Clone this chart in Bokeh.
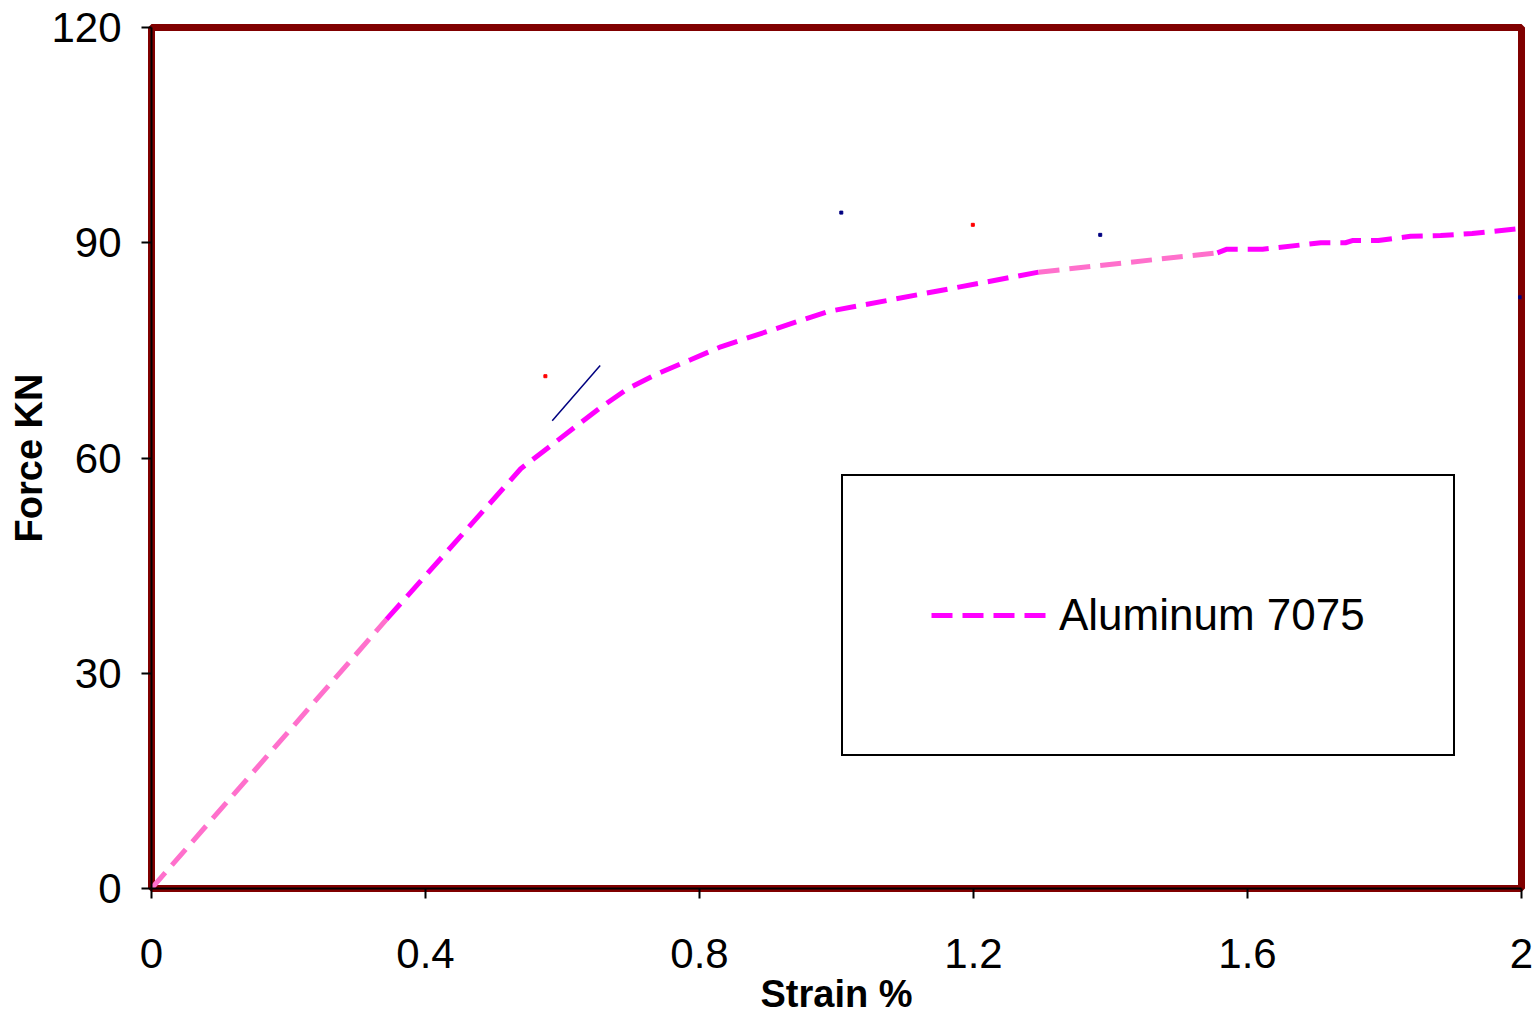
from bokeh.plotting import figure
from bokeh.models import FixedTicker, Legend, LegendItem, Range1d, ColumnDataSource
from bokeh.embed import file_html
from bokeh.resources import INLINE

# ---- data ----
strain = [0, 0.343, 0.539, 0.655, 0.696, 0.740, 0.787, 0.831, 0.987, 1.295,
          1.556, 1.570, 1.622, 1.707, 1.743, 1.753, 1.791, 1.838, 1.882, 1.928, 2.0]
force = [0, 37.5, 58.5, 67.0, 69.7, 71.8, 73.7, 75.5, 80.4, 85.9,
         88.6, 89.1, 89.1, 90.0, 90.0, 90.3, 90.3, 90.9, 91.0, 91.3, 92.0]
# colour of the segment that starts at each point (last point has no segment)
segment_color = ["#FF70CC"] + ["#FF00FF"] * 8 + ["#FF70CC"] + ["#FF00FF"] * 10

navy_strain = [0.585, 0.655]
navy_force = [65.2, 72.9]

speck_strain = [0.575, 1.199, 1.007, 1.385, 1.998]
speck_force = [71.4, 92.5, 94.2, 91.1, 82.4]
speck_color = ["red", "red", "navy", "navy", "navy"]

x_ticks = [0, 0.4, 0.8, 1.2, 1.6, 2]
y_ticks = [0, 30, 60, 90, 120]
series_label = "Aluminum 7075"

# ---- build colour runs from the segment colours ----
runs_x, runs_y, runs_c = [], [], []
cur_x, cur_y, cur_c = [strain[0]], [force[0]], segment_color[0]
for i in range(1, len(strain)):
    seg_c = segment_color[i - 1]
    if seg_c != cur_c:
        runs_x.append(cur_x); runs_y.append(cur_y); runs_c.append(cur_c)
        cur_x, cur_y, cur_c = [strain[i - 1]], [force[i - 1]], seg_c
    cur_x.append(strain[i]); cur_y.append(force[i])
runs_x.append(cur_x); runs_y.append(cur_y); runs_c.append(cur_c)

p = figure(width=1537, height=1017, x_range=Range1d(0, 2), y_range=Range1d(0, 120),
           output_backend="svg", toolbar_location=None,
           min_border_left=151, min_border_right=16, min_border_top=27, min_border_bottom=129)

p.grid.visible = False
p.outline_line_color = "#800000"
p.outline_line_width = 7
p.background_fill_color = "white"
p.border_fill_color = "white"

for ax in (p.xaxis[0], p.yaxis[0]):
    ax.axis_line_color = "black"
    ax.axis_line_width = 2
    ax.major_tick_line_color = "black"
    ax.major_tick_line_width = 2
    ax.major_tick_out = 10
    ax.major_tick_in = 0
    ax.minor_tick_line_color = None
    ax.major_label_text_font = "Liberation Sans"
    ax.major_label_text_font_size = "42px"
    ax.major_label_text_color = "black"
    ax.axis_label_text_font = "Liberation Sans"
    ax.axis_label_text_font_style = "bold"
    ax.axis_label_text_font_size = "38px"
    ax.axis_label_text_color = "black"

p.xaxis.ticker = FixedTicker(ticks=x_ticks)
p.yaxis.ticker = FixedTicker(ticks=y_ticks)
p.xaxis.axis_label = "Strain %"
p.yaxis.axis_label = "Force KN"
p.xaxis.major_label_standoff = 40
p.yaxis.major_label_standoff = 20
p.xaxis.axis_label_standoff = 2
p.yaxis.axis_label_standoff = -2

src = ColumnDataSource(dict(xs=runs_x, ys=runs_y, color=runs_c))
ml = p.multi_line(xs="xs", ys="ys", line_color="color", line_width=5,
                  line_dash="21 10", source=src)

p.line(navy_strain, navy_force, line_color="navy", line_width=1.5)
p.scatter(speck_strain, speck_force, color=speck_color, size=3, marker="square")

legend = Legend(items=[LegendItem(label=series_label, renderers=[ml], index=1)],
                location=(690, 132), border_line_color="black", border_line_width=2,
                border_line_alpha=1.0,
                padding=88, glyph_width=116, glyph_height=102, label_standoff=12,
                label_text_font="Liberation Sans", label_text_font_size="44px",
                label_text_color="black", background_fill_color="white",
                background_fill_alpha=1, margin=0, spacing=0)
p.add_layout(legend)

open("out.html", "w").write(file_html(p, INLINE))
